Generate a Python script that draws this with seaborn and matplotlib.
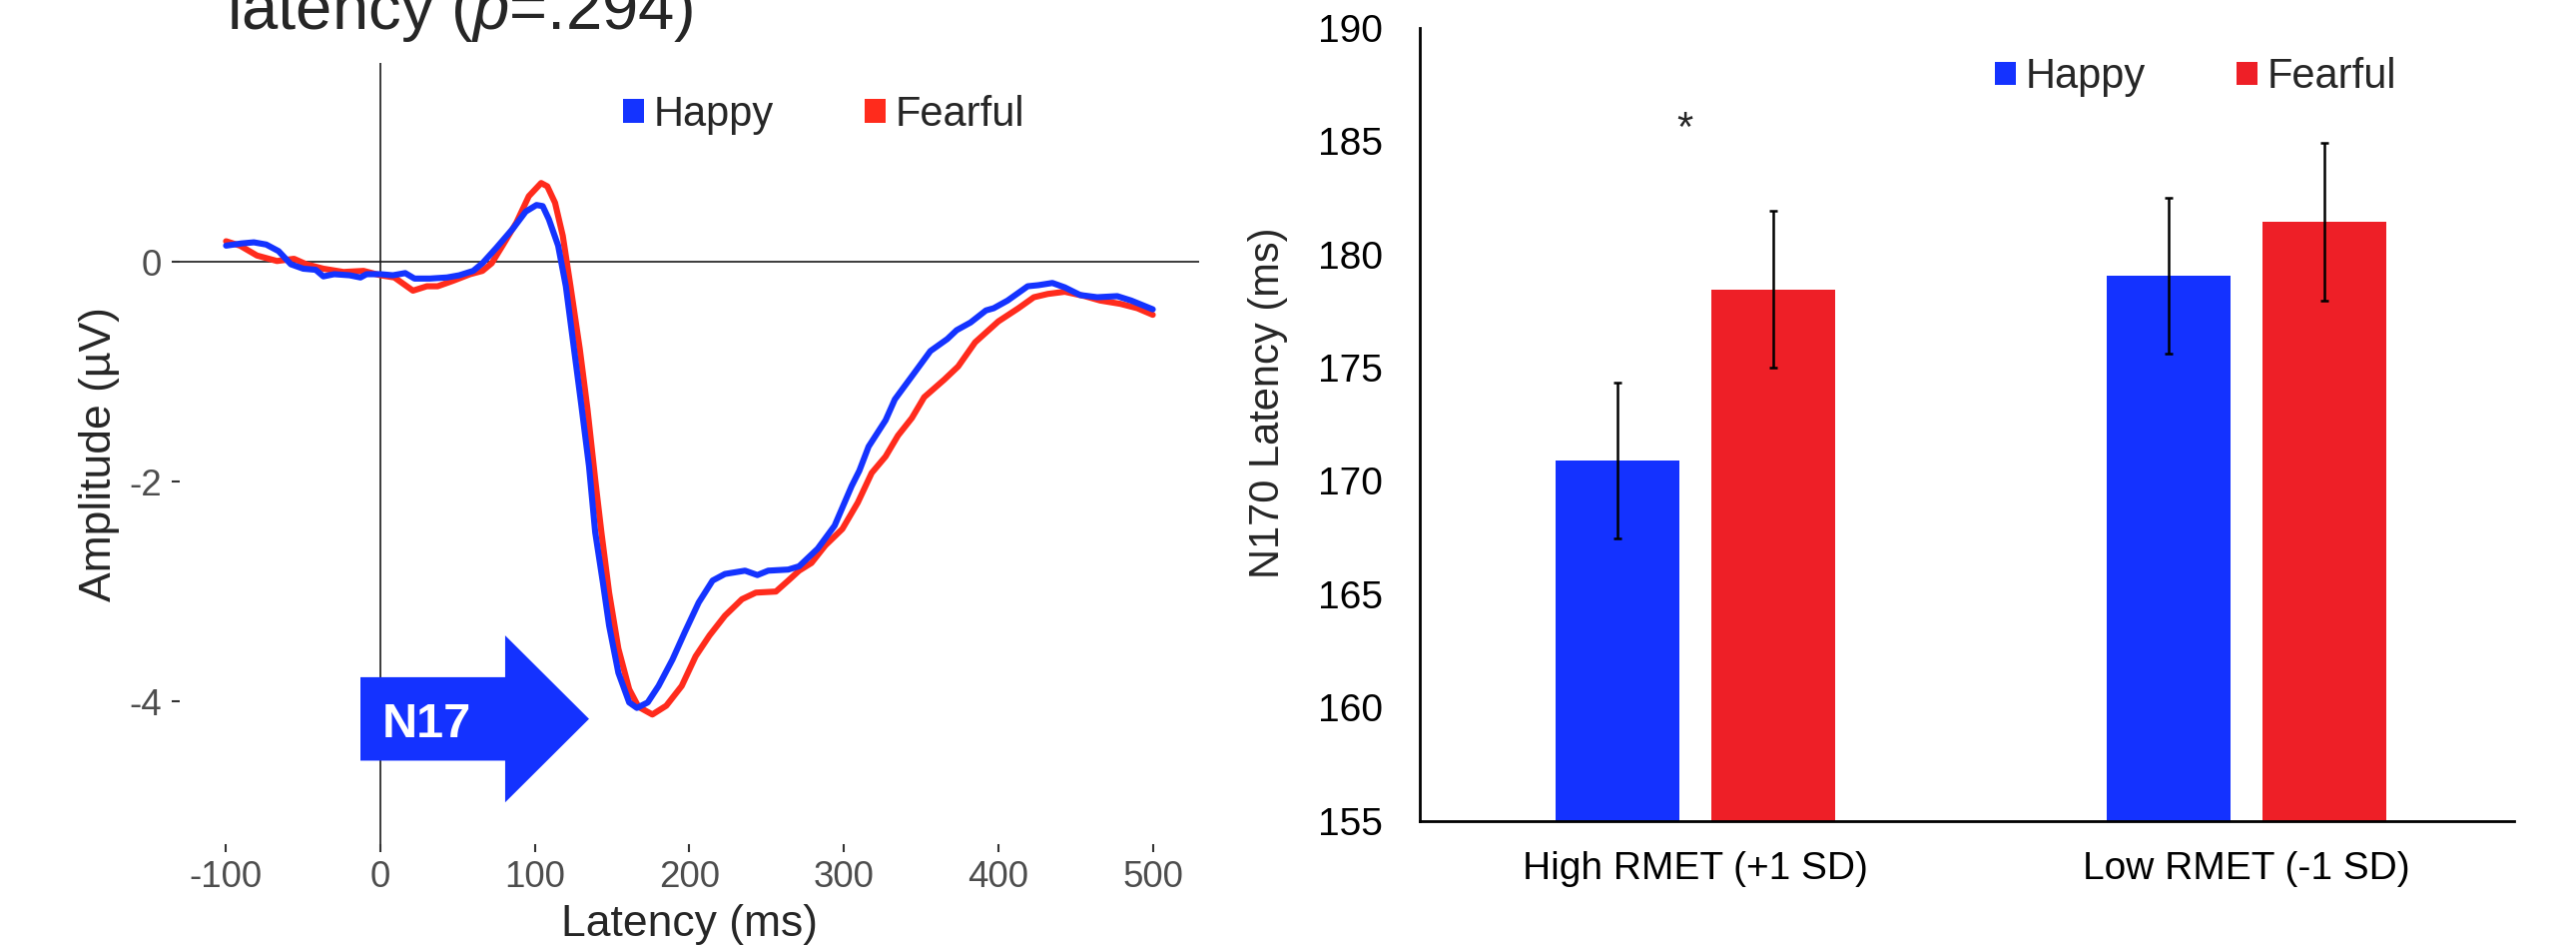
import matplotlib
matplotlib.use("Agg")
import matplotlib.pyplot as plt
import pandas as pd
import seaborn as sns
from matplotlib.patches import FancyArrow, Patch

# ── Data: ERP waveforms ──────────────────────────────────────────────────────

erp_ms_happy = [-100, -90, -82, -74, -66, -58, -50, -42, -37, -30, -20, -13, -9, 0, 8, 16,
                22, 32, 43, 51, 60, 66, 75, 86, 94, 101, 105, 109, 115, 120, 125, 130,
                135, 139, 144, 148, 154, 161, 166, 173, 180, 189, 197, 206, 215, 223,
                236, 244, 251, 264, 271, 283, 294, 305, 310, 316, 327, 333, 344, 356,
                367, 373, 382, 392, 397, 406, 419, 426, 435, 443, 453, 464, 477, 486, 500]
erp_uv_happy = [0.15, 0.17, 0.18, 0.16, 0.10, -0.02, -0.06, -0.07, -0.13, -0.11, -0.12, -0.14,
                -0.11, -0.11, -0.12, -0.10, -0.15, -0.15, -0.14, -0.12, -0.08, -0.01, 0.13,
                0.31, 0.46, 0.52, 0.51, 0.39, 0.15, -0.22, -0.76, -1.30, -1.86, -2.46, -2.92,
                -3.31, -3.74, -4.01, -4.06, -4.01, -3.86, -3.62, -3.37, -3.10, -2.90, -2.84,
                -2.81, -2.85, -2.81, -2.80, -2.77, -2.61, -2.40, -2.04, -1.90, -1.68, -1.44,
                -1.25, -1.04, -0.81, -0.70, -0.62, -0.55, -0.44, -0.42, -0.35, -0.22, -0.21,
                -0.19, -0.23, -0.30, -0.32, -0.31, -0.35, -0.43]

erp_ms_fearful = [-100, -91, -80, -67, -56, -48, -37, -24, -11, 0, 9, 15, 21, 30, 37, 47, 58,
                  66, 72, 79, 88, 96, 104, 108, 113, 118, 123, 129, 134, 139, 143, 148, 154,
                  161, 167, 176, 185, 195, 204, 213, 223, 234, 243, 256, 264, 271, 279, 288,
                  299, 309, 318, 327, 335, 344, 352, 365, 374, 385, 400, 413, 423, 432, 443,
                  456, 466, 479, 490, 500]
erp_uv_fearful = [0.19, 0.15, 0.06, 0.01, 0.03, -0.02, -0.06, -0.09, -0.08, -0.12, -0.14,
                  -0.20, -0.26, -0.22, -0.22, -0.17, -0.11, -0.08, -0.01, 0.15, 0.36, 0.60,
                  0.72, 0.69, 0.54, 0.24, -0.22, -0.79, -1.34, -1.98, -2.46, -3.01, -3.52,
                  -3.89, -4.05, -4.12, -4.04, -3.86, -3.59, -3.40, -3.22, -3.07, -3.01, -3.00,
                  -2.90, -2.81, -2.74, -2.58, -2.43, -2.19, -1.92, -1.77, -1.58, -1.42, -1.23,
                  -1.07, -0.95, -0.73, -0.54, -0.42, -0.32, -0.29, -0.27, -0.31, -0.35, -0.38,
                  -0.42, -0.48]

# ── Data: N170 latency by RMET group ─────────────────────────────────────────

emotions = ["Happy", "Fearful"]
rmet_groups = ["High RMET (+1 SD)", "Low RMET (-1 SD)"]
latency_happy = [170.9, 179.05]
latency_fearful = [178.45, 181.45]
sem_happy = [3.45, 3.45]
sem_fearful = [3.47, 3.48]

line_colors = {"Happy": "#1433FF", "Fearful": "#FF2B1C"}
bar_colors = {"Happy": "#1432FF", "Fearful": "#EE1F27"}

erp = pd.concat([
    pd.DataFrame({"ms": erp_ms_happy, "uv": erp_uv_happy, "emotion": "Happy"}),
    pd.DataFrame({"ms": erp_ms_fearful, "uv": erp_uv_fearful, "emotion": "Fearful"}),
], ignore_index=True)

lat = pd.concat([
    pd.DataFrame({"group": rmet_groups, "latency": latency_happy, "sem": sem_happy, "emotion": "Happy"}),
    pd.DataFrame({"group": rmet_groups, "latency": latency_fearful, "sem": sem_fearful, "emotion": "Fearful"}),
], ignore_index=True)

# ── Style ────────────────────────────────────────────────────────────────────

sns.set_style("white")
plt.rcParams["font.family"] = ["Liberation Sans", "DejaVu Sans"]
plt.rcParams["axes.unicode_minus"] = False
plt.rcParams["mathtext.fontset"] = "custom"
plt.rcParams["mathtext.rm"] = "Liberation Sans"
plt.rcParams["mathtext.it"] = "Liberation Sans:italic"

fig = plt.figure(figsize=(25.8, 9.47), dpi=100)
ax1 = fig.add_axes([0.06977, 0.10771, 0.39573, 0.82534])
ax2 = fig.add_axes([0.55128, 0.13232, 0.42469, 0.83843])

# ── Left: ERP waveform ───────────────────────────────────────────────────────

ax1.axhline(0, color="#1a1a1a", lw=1.2, zorder=1)
ax1.axvline(0, color="#1a1a1a", lw=1.2, zorder=1)
sns.lineplot(data=erp, x="ms", y="uv", hue="emotion", hue_order=emotions[::-1],
             palette=line_colors, linewidth=4.4, estimator=None, sort=False,
             legend=False, ax=ax1)
ax1.set_xlim(-130, 530)
ax1.set_ylim(-5.30, 1.81)
ax1.set_xticks(range(-100, 501, 100))
ax1.set_yticks([0, -2, -4])
for s in ax1.spines.values():
    s.set_visible(False)
ax1.tick_params(axis="both", bottom=True, left=True, labelsize=26.5, labelcolor="#4D4D4D",
                color="#333333", length=6, width=1.5, pad=7)
ax1.tick_params(axis="x", pad=5.5)
ax1.set_xlabel("Latency (ms)", fontsize=32)
ax1.xaxis.set_label_coords(0.5, -0.0768)
ax1.set_ylabel("Amplitude (µV)", fontsize=32)
ax1.yaxis.set_label_coords(-0.0592, 0.5)

arrow = FancyArrow(-13, -4.16, 148, 0, width=0.76, head_width=1.52, head_length=54.3,
                   length_includes_head=True, color="#1432FF", lw=0, zorder=4)
ax1.add_patch(arrow)
ax1.text(1, -4.33, "N17", color="white", fontsize=35, fontweight="bold",
         ha="left", va="baseline", zorder=5)

fig.text(0.088, 0.9694, r"latency ($\mathit{p}$=.294)", fontsize=47, ha="left", va="baseline")

handles = [Patch(facecolor=line_colors[e], edgecolor="none", label=e) for e in emotions]
ax1.legend(handles=handles, loc="center left", bbox_to_anchor=(0.2419, 0.8789),
           bbox_transform=fig.transFigure, ncol=2, frameon=False, fontsize=30,
           handlelength=0.5, handleheight=0.5, handletextpad=0.24, columnspacing=2.18,
           borderpad=0, borderaxespad=0)

# ── Right: N170 latency bars ─────────────────────────────────────────────────

sns.barplot(data=lat, x="group", y="latency", hue="emotion", hue_order=emotions,
            order=rmet_groups, palette=bar_colors, saturation=1, width=0.566, gap=0.21,
            errorbar=None, legend=False, linewidth=0, ax=ax2)
for cont, emo in zip(ax2.containers, emotions):
    sub = lat[lat["emotion"] == emo].set_index("group").loc[rmet_groups]
    xs = [b.get_x() + b.get_width() / 2 for b in cont]
    ax2.errorbar(xs, sub["latency"], yerr=sub["sem"], fmt="none", ecolor="black",
                 elinewidth=1.8, capsize=3, capthick=1.8, zorder=5)

ax2.set_ylim(155, 190)
ax2.set_xlim(-0.4994, 1.4854)
ax2.set_yticks(range(155, 191, 5))
ax2.spines["top"].set_visible(False)
ax2.spines["right"].set_visible(False)
for side in ("left", "bottom"):
    ax2.spines[side].set_color("black")
    ax2.spines[side].set_linewidth(2)
ax2.tick_params(axis="both", length=0, labelsize=28, labelcolor="black")
ax2.tick_params(axis="y", pad=27)
ax2.tick_params(axis="x", pad=22)
ax2.set_xlabel("")
ax2.set_ylabel("N170 Latency (ms)", fontsize=30)
ax2.yaxis.set_label_coords(-0.1207, 0.5264)
ax2.text(-0.02, 185, "*", fontsize=30, ha="center", va="baseline")

handles = [Patch(facecolor=bar_colors[e], edgecolor="none", label=e) for e in emotions]
ax2.legend(handles=handles, loc="center left", bbox_to_anchor=(0.7744, 0.9184),
           bbox_transform=fig.transFigure, ncol=2, frameon=False, fontsize=30,
           handlelength=0.5, handleheight=0.5, handletextpad=0.24, columnspacing=2.18,
           borderpad=0, borderaxespad=0)

fig.savefig("out.png", dpi=100, facecolor="white")
